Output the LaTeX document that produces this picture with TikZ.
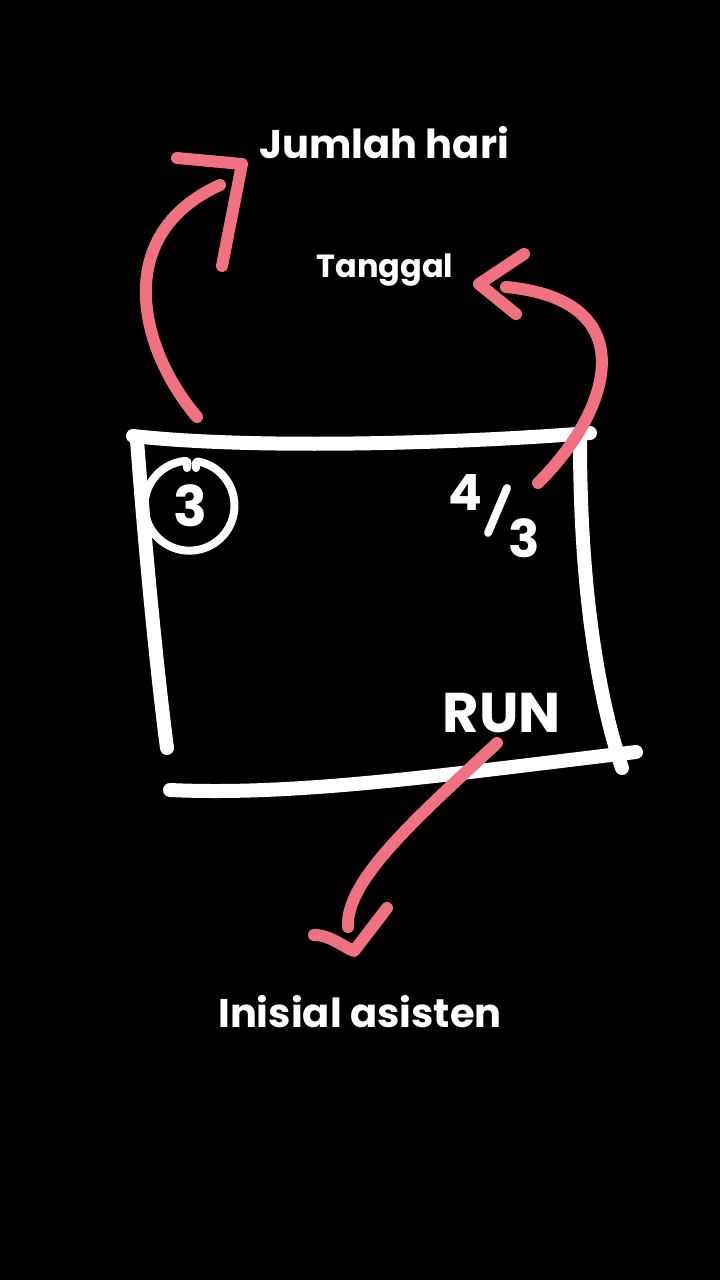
\documentclass[tikz,border=0pt]{standalone}
\usepackage{fontspec}
\setmainfont{Poppins}
\definecolor{arrowpink}{RGB}{240,113,128}
\begin{document}
\begin{tikzpicture}[x=1pt,y=-1pt,
  chalk/.style={draw=white,line width=14pt,line cap=round,line join=round},
  thinchalk/.style={draw=white,line width=8pt,line cap=round,line join=round},
  pinkline/.style={draw=arrowpink,line width=12pt,line cap=round,line join=round},
  lbl/.style={text=white,font=\bfseries,inner sep=0pt,anchor=base}]
\fill[black] (0,0) rectangle (720,1280);
\useasboundingbox (0,0) rectangle (720,1280);

% box corners
\coordinate (tl) at (133,436);
\coordinate (tr) at (590,433);
\coordinate (lt) at (137,440);
\coordinate (lb) at (167,748);
\coordinate (rt) at (580,440);
\coordinate (rb) at (622,768);
\coordinate (bl) at (170,790);
\coordinate (br) at (636,752);

\draw[chalk] (tl) .. controls (250,449) and (450,444) .. (tr);
\draw[chalk] (lt) .. controls (146,560) and (158,680) .. (lb);
\draw[chalk] (rt) .. controls (580,580) and (596,690) .. (rb);
\draw[chalk] (bl) .. controls (300,796) and (450,774) .. (br);

% circled 3
\node[lbl,font=\bfseries\fontsize{56}{60}\selectfont] (three) at (190,526) {3};
\draw[thinchalk] (187,468) .. controls (186,462) and (190,461) .. (184,461)
  arc[start angle=97,end angle=438,x radius=45,y radius=-45]
  .. controls (198,461) and (194,462) .. (196,468);

% 4/3
\node[lbl,font=\bfseries\fontsize{50}{56}\selectfont] (four) at (465,510) {4};
\coordinate (slA) at (507,488);
\coordinate (slB) at (488,533);
\draw[thinchalk] (slA) -- (slB);
\node[lbl,font=\bfseries\fontsize{52}{56}\selectfont] (thr) at (524,557) {3};

% RUN
\node[lbl,font=\bfseries\fontsize{56}{60}\selectfont] (run) at (502,732) {RUN};

% labels
\node[lbl,font=\bfseries\fontsize{40}{48}\selectfont] (jumlah) at (384,158) {Jumlah hari};
\node[lbl,font=\bfseries\fontsize{32}{40}\selectfont] (tanggal) at (385,277) {Tanggal};
\node[lbl,font=\bfseries\fontsize{40}{48}\selectfont] (inisial) at (360,1027) {Inisial asisten};

% arrow 1 (to Jumlah hari)
\coordinate (a1s) at (197,417);
\coordinate (a1e) at (220,185);
\draw[pinkline] (a1s) .. controls (140,350) and (110,235) .. (a1e);
\draw[pinkline] (177,158) -- (242,164) -- (222,266);

% arrow 2 (to Tanggal)
\coordinate (a2s) at (538,483);
\coordinate (a2e) at (506,287);
\draw[pinkline] (a2s) .. controls (612,410) and (645,300) .. (a2e);
\draw[pinkline] (524,254) -- (479,284) -- (516,314);

% arrow 3 (to Inisial asisten)
\coordinate (a3s) at (497,743);
\coordinate (a3e) at (348,927);
\draw[pinkline] (a3s) .. controls (420,815) and (345,880) .. (a3e);
\draw[pinkline] (314,935) .. controls (330,935) and (340,945) .. (354,951) -- (387,908);
\end{tikzpicture}
\end{document}
